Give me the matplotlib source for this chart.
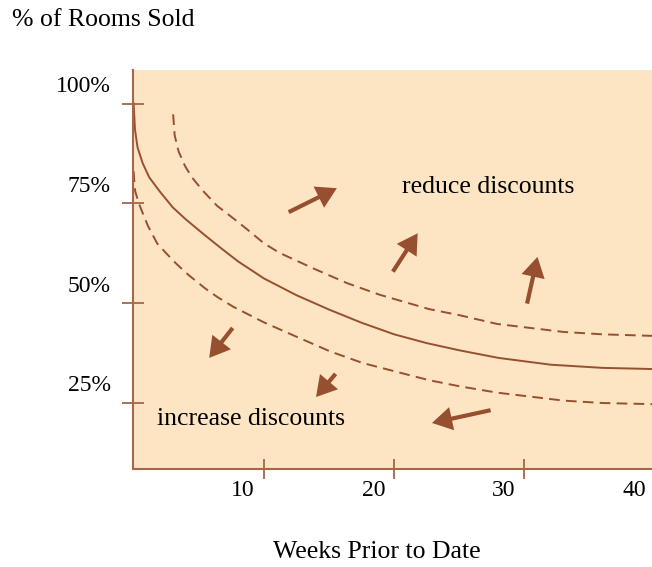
import matplotlib
matplotlib.use("Agg")
import matplotlib.pyplot as plt
from matplotlib.patches import FancyArrowPatch
from matplotlib.transforms import blended_transform_factory

# Sell-through guideline: % of rooms sold vs. weeks prior to the date
weeks_target = [0, 0.1, 0.3, 0.7, 1.2, 2.0, 3.0, 4.0, 5.4, 6.7, 8.0, 10, 12.5, 15,
                17.5, 20, 22.5, 25, 28, 32, 36, 40]
sold_target = [100, 93.5, 89, 85, 81.5, 78, 74, 71, 67.2, 63.8, 60.5, 56.2, 52, 48.4,
               45.1, 42.2, 40, 38.2, 36.3, 34.6, 33.8, 33.5]

weeks_upper = [3.03, 3.15, 3.45, 3.95, 4.5, 5.3, 6.4, 7.75, 8.67, 10, 11.2, 13.8, 16.4,
               18.9, 22.7, 25, 27.9, 33, 36, 40]
sold_upper = [97.3, 92, 88, 84.3, 81.4, 78.2, 74.4, 71, 68.6, 65, 62.6, 58.7, 55,
              52.1, 48.5, 47, 44.8, 42.8, 42.2, 41.8]

weeks_lower = [0, 0.05, 0.12, 0.35, 0.58, 1.09, 1.8, 2.5, 3.3, 4.2, 5.45, 6.4, 7.65, 10,
               12.5, 15.1, 17.6, 20.2, 22.7, 25, 27.9, 33, 36, 40]
sold_lower = [83, 80.5, 78, 75.5, 73.5, 69.4, 65, 62.5, 59.8, 57.1, 53.8, 51.6, 49.1, 45.2,
              41.6, 37.9, 35, 32.8, 30.7, 29.2, 27.6, 25.6, 25, 24.7]

# Direction arrows: (tail_week, tail_pct, tip_week, tip_pct)
arrows = [
    (11.9, 72.8, 15.6, 78.8),
    (19.9, 57.9, 21.8, 67.5),
    (30.2, 49.9, 31.0, 61.6),
    (7.6, 43.8, 5.8, 36.3),
    (15.5, 32.3, 14.0, 26.5),
    (27.4, 23.2, 22.9, 20.0),
]

x_ticks = [10, 20, 30, 40]
y_ticks = [25, 50, 75, 100]
y_tick_labels = ["25%", "50%", "75%", "100%"]

BG = "#FDE4C3"
BROWN = "#96502F"
AXIS = "#A5664A"
FONT = "Liberation Serif"
FS_NUM = 17
FS_TXT = 18.5

fig = plt.figure(figsize=(6.52, 5.67), dpi=100)
ax = fig.add_axes([133 / 652, 1 - 468.5 / 567, (652 - 133) / 652, (468.5 - 70) / 567])
ax.set_facecolor(BG)
ax.set_xlim(-0.05, 39.79)
ax.set_ylim(8.6, 108.4)

for side in ("top", "right"):
    ax.spines[side].set_visible(False)
for side in ("left", "bottom"):
    ax.spines[side].set_color(AXIS)
    ax.spines[side].set_linewidth(1.5)

ax.set_xticks(x_ticks[:3])
ax.set_yticks(y_ticks)
ax.set_xticklabels([])
ax.set_yticklabels([])
ax.tick_params(axis="x", direction="inout", length=15, width=1.3, color=AXIS)
ax.tick_params(axis="y", direction="inout", length=16, width=1.3, color=AXIS)

# Tick labels sit offset from the ticks
tx = blended_transform_factory(ax.transData, fig.transFigure)
for v in x_ticks:
    ax.text(v - 1.6, 1 - 490 / 567, str(v), transform=tx, ha="center", va="center",
            fontsize=FS_NUM, family=FONT, clip_on=False)
ty = blended_transform_factory(fig.transFigure, ax.transData)
for v, lab in zip(y_ticks, y_tick_labels):
    ax.text(111 / 652, v + 4.3, lab, transform=ty, ha="right", va="center",
            fontsize=FS_NUM, family=FONT, clip_on=False)

ax.plot(weeks_target, sold_target, color=BROWN, lw=1.4, solid_joinstyle="round", clip_on=False)
ax.plot(weeks_upper, sold_upper, color=BROWN, lw=1.4, linestyle=(0, (5.5, 3.2)), clip_on=False)
ax.plot(weeks_lower, sold_lower, color=BROWN, lw=1.4, linestyle=(0, (5.5, 3.2)), clip_on=False)

for x0, y0, x1, y1 in arrows:
    ax.add_patch(FancyArrowPatch((x0, y0), (x1, y1),
                                 arrowstyle="simple,head_length=1.45,head_width=1.7,tail_width=0.3",
                                 mutation_scale=10, color=BROWN, shrinkA=0, shrinkB=0, lw=0))

ax.text(27.2, 79.0, "reduce discounts", ha="center", va="center", fontsize=FS_TXT, family=FONT)
ax.text(9.0, 21.0, "increase discounts", ha="center", va="center", fontsize=FS_TXT, family=FONT)

fig.text(12 / 652, 1 - 20 / 567, "% of Rooms Sold", ha="left", va="center",
         fontsize=FS_TXT, family=FONT)
fig.text(377 / 652, 1 - 552 / 567, "Weeks Prior to Date", ha="center", va="center",
         fontsize=FS_TXT, family=FONT)

fig.savefig("out.png", dpi=100, facecolor="white")
